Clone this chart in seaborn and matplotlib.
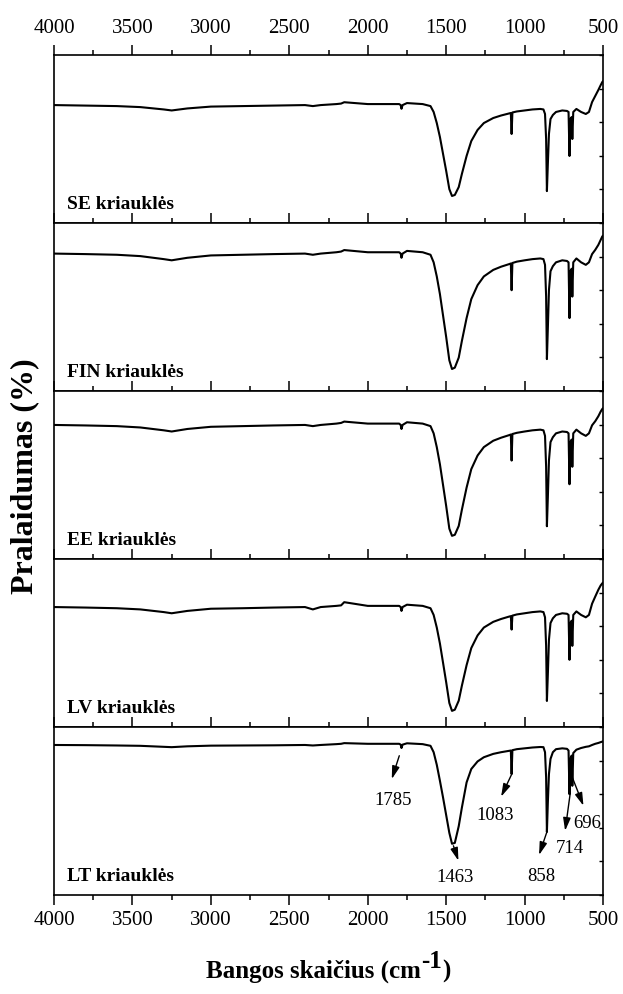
import matplotlib
matplotlib.use("Agg")
import matplotlib.pyplot as plt
import numpy as np
import pandas as pd
import seaborn as sns
from matplotlib.ticker import MultipleLocator

# ---------------- data ----------------
wavenumber = [4000, 3800, 3600, 3450, 3300, 3250, 3150, 3000, 2800, 2600,
              2400, 2350, 2300, 2200, 2170, 2150, 2000, 1850, 1800, 1790,
              1785, 1778, 1750, 1650, 1600, 1580, 1560, 1540, 1520, 1500,
              1480, 1463, 1445, 1420, 1400, 1370, 1340, 1300, 1260, 1200,
              1150, 1100, 1088, 1083, 1078, 1050, 1000, 950, 900, 880,
              870, 863, 858, 852, 845, 835, 820, 800, 760, 730,
              720, 714, 708, 700, 696, 690, 670, 640, 610, 590,
              570, 550, 530, 515, 505, 500]

se = [70.2, 69.9, 69.6, 69.0, 67.6, 67.0, 68.2, 69.3, 69.6, 69.9,
      70.2, 69.6, 70.2, 70.8, 71.1, 71.9, 70.8, 70.8, 70.8, 70.2,
      68.0, 70.2, 71.4, 70.8, 69.6, 66.1, 59.5, 51.2, 41.1, 31.0,
      20.2, 16.1, 16.7, 21.4, 29.2, 39.9, 48.8, 55.4, 59.5, 62.5,
      64.0, 65.2, 65.5, 53.0, 65.8, 66.4, 67.0, 67.6, 67.9, 67.6,
      64.9, 50.0, 19.0, 35.1, 53.0, 61.9, 64.3, 66.1, 67.0, 66.7,
      66.1, 39.9, 62.0, 63.1, 50.0, 66.1, 67.9, 66.1, 64.9, 66.1,
      72.0, 75.6, 79.2, 82.1, 83.9, 84.5]

fin = [81.8, 81.5, 81.1, 80.3, 78.5, 77.8, 79.3, 80.7, 81.1, 81.5,
       81.8, 81.1, 81.8, 82.6, 83.0, 83.9, 82.6, 82.6, 82.6, 81.8,
       79.3, 81.8, 83.4, 82.6, 81.1, 76.6, 68.2, 57.7, 44.9, 32.1,
       18.3, 13.1, 13.9, 19.9, 29.8, 43.4, 54.7, 63.0, 68.2, 72.1,
       74.0, 75.5, 75.9, 60.0, 76.2, 77.0, 77.8, 78.5, 78.9, 78.5,
       75.1, 56.2, 19.0, 37.3, 60.0, 71.3, 74.3, 76.6, 77.8, 77.4,
       76.6, 43.4, 71.4, 72.8, 56.2, 76.6, 78.9, 76.6, 75.1, 76.6,
       81.5, 84.0, 87.0, 90.0, 92.0, 92.5]

ee = [79.8, 79.5, 79.1, 78.3, 76.6, 75.9, 77.4, 78.7, 79.1, 79.5,
      79.8, 79.1, 79.8, 80.6, 81.0, 81.8, 80.6, 80.6, 80.6, 79.8,
      77.4, 79.8, 81.4, 80.6, 79.1, 74.8, 66.6, 56.4, 44.0, 31.5,
      18.1, 13.8, 14.4, 19.7, 29.3, 42.5, 53.5, 61.6, 66.6, 70.4,
      72.2, 73.7, 74.1, 58.6, 74.4, 75.1, 75.9, 76.6, 77.0, 76.6,
      73.3, 54.9, 19.5, 36.6, 58.6, 69.6, 72.5, 74.8, 75.9, 75.6,
      74.8, 44.5, 69.7, 71.1, 54.9, 74.8, 77.0, 74.8, 73.3, 74.8,
      79.6, 82.0, 85.0, 87.8, 89.3, 89.8]

lv = [71.4, 71.1, 70.7, 70.0, 68.4, 67.7, 69.1, 70.4, 70.7, 71.1,
      71.4, 70.0, 71.4, 72.1, 72.4, 74.3, 72.1, 72.1, 72.1, 71.4,
      69.1, 71.4, 72.8, 72.1, 70.7, 66.7, 59.2, 49.7, 38.2, 26.6,
      14.3, 9.6, 10.3, 15.7, 24.6, 36.8, 47.0, 54.5, 59.2, 62.6,
      64.3, 65.7, 66.0, 58.0, 66.3, 67.0, 67.7, 68.4, 68.8, 68.4,
      65.3, 48.3, 15.5, 31.3, 51.8, 61.9, 64.7, 66.7, 67.7, 67.4,
      66.7, 40.0, 62.0, 63.3, 48.3, 66.7, 68.8, 66.7, 65.3, 66.7,
      73.4, 77.6, 81.7, 84.3, 85.5, 86.0]

lt = [89.3, 89.2, 89.0, 88.8, 88.2, 88.0, 88.5, 88.9, 89.0, 89.1,
      89.3, 89.0, 89.3, 89.8, 90.0, 90.4, 90.0, 90.0, 90.0, 89.5,
      87.5, 89.5, 90.3, 89.8, 88.8, 85.0, 77.5, 68.0, 58.0, 47.5,
      37.0, 30.5, 31.0, 41.0, 52.0, 67.0, 75.0, 79.5, 82.0, 84.0,
      85.0, 85.8, 86.0, 72.0, 86.2, 86.8, 87.3, 87.8, 88.1, 88.0,
      85.0, 70.0, 37.5, 55.0, 72.0, 81.0, 85.0, 86.8, 87.3, 87.0,
      86.0, 60.0, 81.0, 83.0, 65.0, 84.5, 86.5, 87.5, 88.2, 88.5,
      89.3, 90.0, 90.5, 91.0, 91.3, 91.5]

panel_names = ["SE kriauklės", "FIN kriauklės", "EE kriauklės",
               "LV kriauklės", "LT kriauklės"]
series = [se, fin, ee, lv, lt]

x_ticks = [4000, 3500, 3000, 2500, 2000, 1500, 1000, 500]

# peak annotations on the LT panel: label, arrow tail, arrow head, text position
peak_labels = ["1785", "1463", "1083", "858", "714", "696"]
arrow_tail = [(1799, 82.9), (1454, 29.3), (1082, 72.0), (859, 37.3), (710, 60.1), (696, 70.0)]
arrow_head = [(1847, 69.0), (1422, 20.4), (1150, 58.5), (908, 23.8), (742, 38.2), (625, 53.1)]
text_pos = [(1837, 57.1), (1443, 10.9), (1189, 47.7), (891, 11.5), (710, 28.0), (604, 42.9)]

# ---------------- style ----------------
sns.set_style("white")
plt.rcParams["font.family"] = ["Liberation Serif", "DejaVu Serif"]
plt.rcParams["text.color"] = "black"
plt.rcParams["xtick.color"] = "black"
plt.rcParams["ytick.color"] = "black"
plt.rcParams["axes.labelcolor"] = "black"
plt.rcParams["axes.linewidth"] = 1.2

fig, axes = plt.subplots(5, 1, figsize=(6.23, 9.95), dpi=100, sharex=True)
fig.subplots_adjust(left=0.0867, right=0.968, bottom=0.0995, top=0.9437, hspace=0)

for i, (ax, name, vals) in enumerate(zip(axes, panel_names, series)):
    df = pd.DataFrame({"wn": wavenumber, "t": vals})
    sns.lineplot(data=df, x="wn", y="t", ax=ax, color="black", lw=1.5,
                 sort=False, estimator=None)
    ax.set_xlim(4000, 500)
    ax.set_ylim(0, 100)
    ax.set_xlabel("")
    ax.set_ylabel("")
    for sp in ax.spines.values():
        sp.set_color("black")
        sp.set_linewidth(1.2)
    ax.set_xticks(x_ticks)
    ax.xaxis.set_minor_locator(MultipleLocator(250))
    ax.tick_params(axis="x", which="both", direction="out", top=True,
                   bottom=(i == 4), labeltop=(i == 0), labelbottom=(i == 4),
                   color="black", labelcolor="black", width=1.1, labelsize=15)
    ax.tick_params(axis="x", which="major", length=7)
    ax.tick_params(axis="x", which="minor", length=3.6)
    if i == 0:
        ax.tick_params(axis="x", which="major", pad=6)
    if i == 4:
        ax.tick_params(axis="x", which="major", pad=3.5)
    ax.yaxis.set_major_locator(MultipleLocator(20))
    ax.tick_params(axis="y", which="both", left=False, right=True, direction="in",
                   length=3, width=1.0, color="black", labelleft=False, labelright=False)
    ax.text(0.024, 0.09, name, transform=ax.transAxes, fontsize=14, color="black",
            fontweight="bold", ha="left", va="baseline")

ax = axes[4]
for lab, tail, head, tp in zip(peak_labels, arrow_tail, arrow_head, text_pos):
    ax.annotate("", xy=head, xytext=tail,
                arrowprops=dict(arrowstyle="-|>,head_length=0.55,head_width=0.16",
                                color="black", lw=1.0, mutation_scale=14,
                                shrinkA=0, shrinkB=0))
    ax.text(tp[0], tp[1], lab, fontsize=13.5, ha="center", va="center", color="black")

fig.text(0.039, 0.5216, "Pralaidumas (%)", rotation=90, fontsize=23,
         fontweight="bold", ha="center", va="center", color="black")

# x label with full-size raised superscript
renderer = fig.canvas.get_renderer()
W, H = fig.bbox.width, fig.bbox.height
base_y = 0.018
xl_size = 18
parts = ["Bangos skaičius (cm", "-1", ")"]
raises = [0.0, 9.0, 0.0]  # pixels
texts = []
for p, r in zip(parts, raises):
    t = fig.text(0, base_y + r / H, p, fontsize=xl_size, fontweight="bold",
                 ha="left", va="baseline", color="black")
    texts.append(t)
widths = [t.get_window_extent(renderer).width for t in texts]
center_px = 0.527 * W
x_px = center_px - sum(widths) / 2
for t, w in zip(texts, widths):
    t.set_x(x_px / W)
    x_px += w

fig.savefig("out.png", dpi=100)
